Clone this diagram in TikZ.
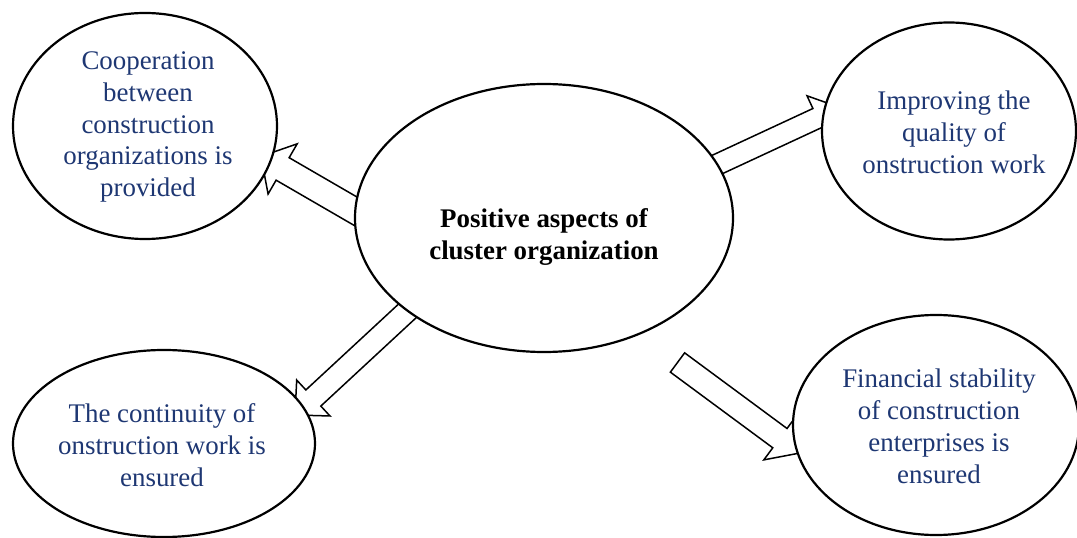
\documentclass[tikz,border=0pt]{standalone}
\usepackage{fontspec}
\setmainfont{Liberation Serif}
\usetikzlibrary{shapes.geometric,calc}
\definecolor{txtblue}{RGB}{30,55,115}
\newcommand{\blockarrow}[5]{%
  \coordinate (ba-b) at ($(#2)!#5!(#1)$);
  \draw[blockarr] ($(#1)!#3!90:(#2)$) -- ($(ba-b)!#3!90:(#2)$) -- ($(ba-b)!#4!90:(#2)$)
    -- (#2) -- ($(ba-b)!#4!-90:(#2)$) -- ($(ba-b)!#3!-90:(#2)$) -- ($(#1)!#3!-90:(#2)$) -- cycle;
}
\begin{document}
\begin{tikzpicture}[x=1bp,y=-1bp,
  bub/.style={ellipse,draw=black,line width=2.2bp,fill=white,inner sep=0pt},
  txt/.style={align=center,text=txtblue,font=\fontsize{27}{32}\selectfont,inner sep=0pt},
  ctxt/.style={align=center,text=black,font=\fontsize{27}{33}\selectfont\bfseries,inner sep=0pt},
  blockarr/.style={draw=black,line width=1.5bp,fill=white,line join=miter}]
\useasboundingbox (0,0) rectangle (1077,538);
% arrow anchor points
\coordinate (s1) at (369,219);
\coordinate (p1) at (261,156.4);
\coordinate (s2) at (699,173);
\coordinate (p2) at (840,107.5);
\coordinate (s3) at (431,289);
\coordinate (p3) at (295,415);
\coordinate (s4) at (677.5,362.5);
\coordinate (p4) at (800,453);
% block arrows
\blockarrow{s1}{p1}{13bp}{29bp}{25bp}
\blockarrow{s2}{p2}{10.5bp}{24.5bp}{25bp}
\blockarrow{s3}{p3}{11bp}{24.5bp}{25bp}
\blockarrow{s4}{p4}{12bp}{27bp}{25bp}
% ellipses
\node[bub,minimum width=378bp,minimum height=268bp] (e0) at (544,218) {};
\node[bub,minimum width=264bp,minimum height=226bp] (e1) at (145,126) {};
\node[bub,minimum width=254bp,minimum height=217bp] (e2) at (949,131) {};
\node[bub,minimum width=302bp,minimum height=187bp] (e3) at (164,443.5) {};
\node[bub,minimum width=286bp,minimum height=220bp] (e4) at (936,425) {};
% texts
\node[ctxt] (t0) at (544,237) {Positive aspects of\\cluster organization};
\node[txt] (t1) at (148,127) {Cooperation\\between\\construction\\organizations is\\provided};
\node[txt] (t2) at (954,132) {Improving the\\quality of\\onstruction work};
\node[txt] (t3) at (162,445) {The continuity of\\onstruction work is\\ensured};
\node[txt] (t4) at (939,426) {Financial stability\\of construction\\enterprises is\\ensured};
\end{tikzpicture}
\end{document}
